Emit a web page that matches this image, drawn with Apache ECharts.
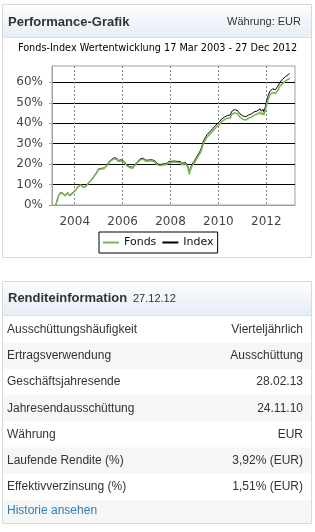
<!DOCTYPE html>
<html><head><meta charset="utf-8">
<script src="https://cdn.jsdelivr.net/npm/echarts@6/dist/echarts.min.js"></script>
<style>html,body{margin:0;padding:0;background:#fff;}#c{width:315px;height:532px;}</style>
</head><body><div id="c"></div>
<script>
var chartTitle = 'Fonds-Index Wertentwicklung 17 Mar 2003 - 27 Dec 2012';
var seriesNames = ['Fonds', 'Index'];
var yearTicks = [2004, 2006, 2008, 2010, 2012];
var pctTicks = [0, 10, 20, 30, 40, 50, 60];
var dates = [2003.21,2003.27,2003.33,2003.40,2003.45,2003.50,2003.55,2003.60,2003.65,2003.70,2003.75,2003.80,2003.85,2003.90,2003.95,
2004.00,2004.06,2004.12,2004.18,2004.24,2004.30,2004.37,2004.43,2004.49,2004.55,2004.62,2004.68,2004.74,2004.80,2004.86,2004.92,2004.98,
2005.04,2005.10,2005.16,2005.22,2005.28,2005.34,2005.40,2005.46,2005.52,2005.58,2005.64,2005.70,2005.76,2005.82,2005.88,2005.94,
2006.00,2006.06,2006.12,2006.18,2006.24,2006.30,2006.35,2006.42,2006.48,2006.53,2006.60,2006.67,2006.74,2006.80,2006.86,2006.92,2006.98,
2007.04,2007.10,2007.16,2007.22,2007.28,2007.34,2007.40,2007.46,2007.52,2007.58,2007.64,2007.70,2007.76,2007.82,2007.88,2007.94,
2008.00,2008.06,2008.12,2008.18,2008.24,2008.30,2008.36,2008.42,2008.48,2008.54,2008.60,2008.66,2008.70,2008.74,2008.78,2008.82,2008.86,2008.90,2008.95,
2009.00,2009.06,2009.12,2009.18,2009.24,2009.30,2009.36,2009.42,2009.48,2009.54,2009.60,2009.66,2009.72,2009.78,2009.84,2009.90,2009.96,
2010.02,2010.08,2010.14,2010.20,2010.26,2010.32,2010.38,2010.44,2010.50,2010.55,2010.60,2010.66,2010.72,2010.78,2010.84,2010.90,2010.96,
2011.02,2011.08,2011.14,2011.20,2011.26,2011.32,2011.38,2011.44,2011.50,2011.56,2011.62,2011.68,2011.74,2011.80,2011.86,2011.90,2011.95,
2012.00,2012.05,2012.10,2012.15,2012.20,2012.26,2012.32,2012.38,2012.44,2012.50,2012.56,2012.62,2012.68,2012.74,2012.80,2012.86,2012.92,2012.98];
var fonds = [0.0,2.5,4.5,5.8,6.5,5.6,4.8,4.4,5.2,5.9,5.0,4.6,5.3,5.6,6.2,
6.8,7.5,8.6,9.2,9.8,9.1,8.5,8.9,9.4,10.2,11.3,12.0,12.8,13.9,14.8,15.8,17.2,
18.0,17.6,17.0,17.8,18.4,19.2,20.4,21.3,21.7,22.0,22.6,23.0,22.3,21.3,21.0,21.6,
21.4,20.8,20.2,19.2,18.8,18.3,18.5,18.0,19.0,19.7,20.6,21.4,22.1,21.6,22.4,21.8,21.4,
21.9,21.5,22.2,21.6,22.0,21.2,20.4,19.6,19.0,19.3,19.0,19.6,19.2,19.8,20.2,20.8,
21.3,20.9,20.6,21.0,20.4,20.8,21.4,20.8,19.6,19.0,20.4,21.0,19.2,17.6,15.0,16.8,18.0,19.2,19.8,
20.8,22.0,23.2,23.8,25.4,27.2,29.6,31.2,32.4,33.4,34.2,34.8,35.6,36.4,37.2,37.9,38.6,
39.2,40.0,40.8,41.2,41.8,42.2,42.5,42.0,42.6,44.2,44.9,45.0,44.6,44.8,44.0,43.0,42.4,
42.0,41.8,41.6,42.0,42.4,42.6,43.0,43.6,44.0,43.4,44.4,45.0,45.4,44.2,45.2,44.0,45.8,
48.4,50.4,52.4,53.8,54.4,55.0,55.4,54.6,55.0,56.4,58.0,58.8,59.4,60.0,60.6,61.0,61.5,62.0];
var indexVals = [0.0,2.6,4.7,6.0,6.8,5.8,5.0,4.6,5.4,6.1,5.2,4.8,5.5,5.8,6.4,
7.0,7.7,8.8,9.4,10.0,9.3,8.7,9.1,9.6,10.4,11.5,12.2,13.0,14.1,15.1,16.1,17.5,
18.3,17.9,17.3,18.1,18.7,19.5,20.8,21.7,22.1,22.5,23.1,23.6,22.8,21.8,21.5,22.1,
21.9,21.3,20.6,19.6,19.2,18.7,18.9,18.4,19.4,20.1,21.0,21.9,22.6,22.1,22.9,22.3,21.9,
22.4,22.0,22.7,22.1,22.5,21.7,20.9,20.1,19.5,19.8,19.5,20.1,19.7,20.3,20.7,21.3,
21.8,21.4,21.1,21.5,20.9,21.3,21.9,21.3,20.2,19.6,21.0,21.6,19.8,18.4,16.0,17.6,18.8,20.0,20.6,
21.6,22.9,24.1,24.7,26.4,28.3,30.7,32.3,33.6,34.6,35.4,36.0,36.8,37.6,38.4,39.1,39.8,
40.4,41.2,42.1,42.5,43.1,43.5,43.8,43.4,44.0,45.7,46.5,46.6,46.2,46.4,45.6,44.6,44.0,
43.6,43.4,43.2,43.6,44.0,44.2,44.6,45.2,45.6,45.0,46.0,46.7,47.0,45.9,46.9,45.6,47.5,
50.2,52.2,54.2,55.6,56.2,56.8,57.2,56.4,56.8,58.4,60.0,60.8,61.5,62.2,62.8,63.3,63.8,64.4];
var panel1Title = 'Performance-Grafik';
var panel1Currency = 'Währung: EUR';
var panel2Title = 'Renditeinformation';
var panel2Date = '27.12.12';
var rowLabels = ['Ausschüttungshäufigkeit','Ertragsverwendung','Geschäftsjahresende','Jahresendausschüttung','Währung','Laufende Rendite (%)','Effektivverzinsung (%)'];
var rowValues = ['Vierteljährlich','Ausschüttung','28.02.13','24.11.10','EUR','3,92% (EUR)','1,51% (EUR)'];
var linkText = 'Historie ansehen';

(function(){
function pairs(vals){ return dates.map(function(d,i){ return [d, vals[i]]; }); }

var chart = echarts.init(document.getElementById('c'), null, {renderer:'canvas'});
var AR = '"Liberation Sans", Arial, sans-serif';
var DJ = '"DejaVu Sans", sans-serif';
function hdrGrad(){ return {type:'linear', x:0, y:0, x2:0, y2:1, colorStops:[{offset:0,color:'#fcfdfe'},{offset:1,color:'#e6edf6'}]}; }

var g = [];
// panel 1
g.push({type:'rect', silent:true, shape:{x:3,y:5,width:308,height:32}, style:{fill:hdrGrad()}});
g.push({type:'line', silent:true, shape:{x1:3,y1:37.5,x2:311,y2:37.5}, style:{stroke:'#d9e0e8',lineWidth:1}});
g.push({type:'rect', silent:true, shape:{x:2.5,y:4.5,width:309,height:253}, style:{fill:'transparent',stroke:'#d9d9d9',lineWidth:1}});
g.push({type:'text', silent:true, x:8, y:22, style:{text:panel1Title, font:'bold 13px '+AR, fill:'#333', textAlign:'left', textVerticalAlign:'middle'}});
g.push({type:'text', silent:true, x:301, y:22, style:{text:panel1Currency, font:'11px '+AR, fill:'#333', textAlign:'right', textVerticalAlign:'middle'}});
// panel 2
var p2top = 281.5;
g.push({type:'rect', silent:true, shape:{x:3,y:282,width:308,height:33}, style:{fill:hdrGrad()}});
var rowTop = 316.5, rowH = 26.2;
for (var i=0;i<8;i++){
  var rt = rowTop + i*rowH;
  var rh = (i===7) ? (523 - rt) : rowH;
  if (i%2===1) g.push({type:'rect', silent:true, shape:{x:3,y:rt,width:308,height:rh}, style:{fill:'#f6f6f6'}});
}
g.push({type:'line', silent:true, shape:{x1:3,y1:315.5,x2:311,y2:315.5}, style:{stroke:'#d9e0e8',lineWidth:1}});
g.push({type:'rect', silent:true, shape:{x:2.5,y:p2top,width:309,height:242}, style:{fill:'transparent',stroke:'#d9d9d9',lineWidth:1}});
g.push({type:'text', silent:true, x:8, y:298, style:{text:panel2Title, font:'bold 13px '+AR, fill:'#333', textAlign:'left', textVerticalAlign:'middle'}});
g.push({type:'text', silent:true, x:133, y:298.5, style:{text:panel2Date, font:'11px '+AR, fill:'#333', textAlign:'left', textVerticalAlign:'middle'}});
for (var j=0;j<rowLabels.length;j++){
  var cy = rowTop + j*rowH + rowH/2;
  g.push({type:'text', silent:true, x:7, y:cy, style:{text:rowLabels[j], font:'12px '+AR, fill:'#333', textAlign:'left', textVerticalAlign:'middle'}});
  g.push({type:'text', silent:true, x:303, y:cy, style:{text:rowValues[j], font:'12px '+AR, fill:'#333', textAlign:'right', textVerticalAlign:'middle'}});
}
g.push({type:'text', silent:true, x:7, y:rowTop + 7*rowH + 10.5, style:{text:linkText, font:'12px '+AR, fill:'#2f7fb8', textAlign:'left', textVerticalAlign:'middle'}});

chart.setOption({
  animation:false,
  backgroundColor:'#fff',
  title:{text:chartTitle, left:'center', top:43, padding:0, textStyle:{fontFamily:DJ, fontSize:9.7, fontWeight:'normal', color:'#000'}},
  legend:{data:seriesNames, left:99, top:232, orient:'horizontal', borderColor:'#000', borderWidth:1, padding:[5,4,5,4], icon:'rect', itemWidth:16, itemHeight:2, itemGap:6,
    textStyle:{fontFamily:DJ, fontSize:11, color:'#111'}},
  grid:{left:52, right:20, top:66, bottom:327, show:true, borderColor:'#a0a0a0', borderWidth:1, containLabel:false},
  xAxis:{type:'value', min:2003.05, max:2013.2, offset:4,
    axisLine:{show:true, lineStyle:{color:'#a0a0a0'}},
    axisTick:{show:false, customValues:yearTicks},
    axisLabel:{customValues:yearTicks, formatter:function(v){return String(v);}, fontFamily:DJ, fontSize:12, color:'#444', margin:7},
    splitLine:{show:true, lineStyle:{color:'#888', type:[2,2], width:1}}},
  yAxis:{type:'value', min:0, max:68,
    axisLine:{show:true, lineStyle:{color:'#a0a0a0'}},
    axisTick:{show:true, length:3, customValues:pctTicks, lineStyle:{color:'#a0a0a0'}},
    axisLabel:{customValues:pctTicks, formatter:'{value}%', fontFamily:DJ, fontSize:12, color:'#444', margin:9},
    splitLine:{show:true, lineStyle:{color:'#000', width:1}}},
  series:[
    {name:seriesNames[1], type:'line', data:pairs(indexVals), symbol:'none', lineStyle:{color:'#000', width:1}, itemStyle:{color:'#000'}, z:3},
    {name:seriesNames[0], type:'line', data:pairs(fonds), symbol:'none', lineStyle:{color:'#7fb45d', width:1.6}, itemStyle:{color:'#7fb45d'}, z:4}
  ],
  graphic:{elements:g}
});
})();
</script>
</body></html>
